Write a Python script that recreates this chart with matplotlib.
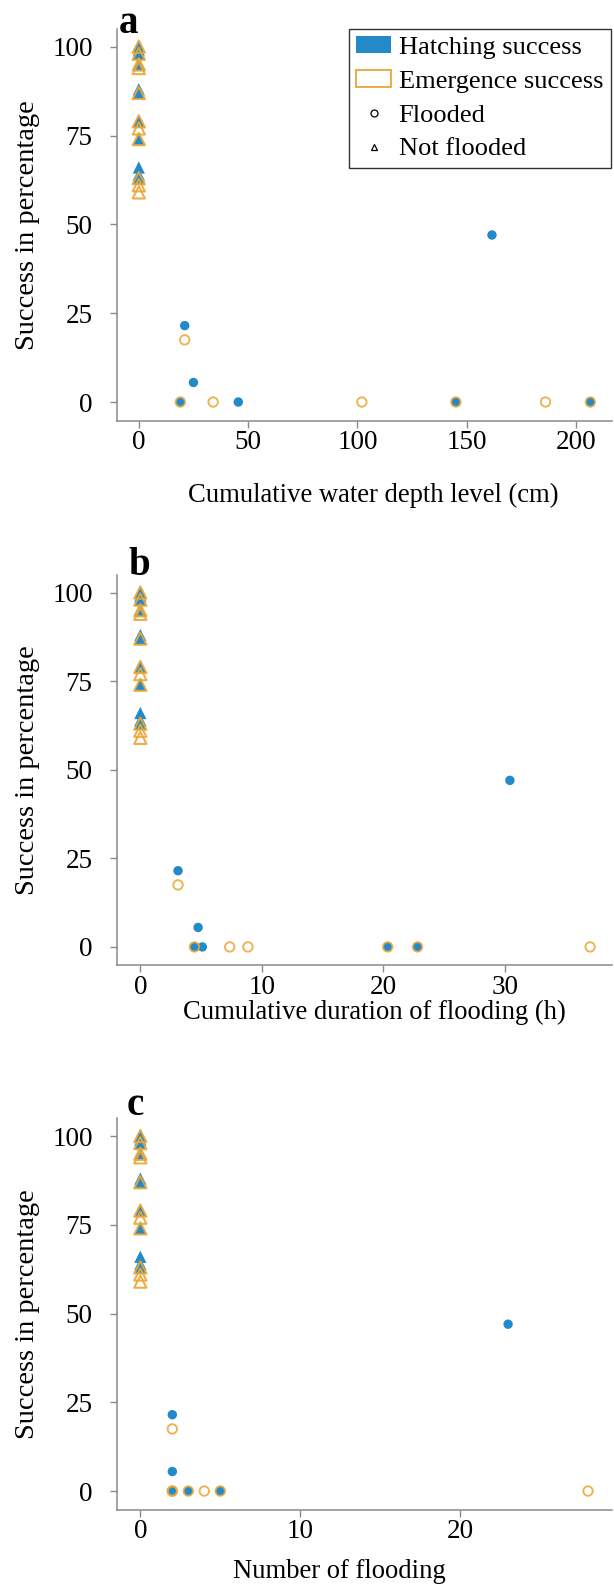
import matplotlib
matplotlib.use("Agg")
import matplotlib.pyplot as plt
from matplotlib.patches import Patch
from matplotlib.lines import Line2D

plt.rcParams['font.family'] = ['Liberation Serif', 'DejaVu Serif']

# ---------------- data ----------------
# Not flooded nests (x = 0 in every panel)
hatch_nf = [100, 99, 98, 95, 88, 87, 79, 74, 66, 64, 63]
emerg_nf = [100, 98, 95, 94, 87, 79, 77, 74, 63, 61, 59]

# Flooded nests
hatch_fl = [0, 21.5, 5.5, 0, 0, 47, 0]
hatch_depth = [19, 21, 25, 45.5, 145, 161.5, 206.5]
emerg_fl = [0, 17.5, 0, 0, 0, 0, 0]
emerg_depth = [19, 21, 34, 102, 145, 186, 206.5]

hatch_dur_fl = [5.1, 3.1, 4.75, 4.45, 20.35, 22.8, 30.4]
hatch_dur_val = [0, 21.5, 5.5, 0, 0, 0, 47]
emerg_dur_fl = [3.1, 4.45, 7.35, 8.85, 20.35, 22.8, 37.0]
emerg_dur_val = [17.5, 0, 0, 0, 0, 0, 0]

hatch_num_fl = [2, 2, 2, 3, 5, 23, 5]
hatch_num_val = [21.5, 5.5, 0, 0, 0, 47, 0]
emerg_num_fl = [2, 2, 3, 4, 5, 28, 2]
emerg_num_val = [17.5, 0, 0, 0, 0, 0, 0]

panel_letters = ['a', 'b', 'c']
xlabels = ['Cumulative water depth level (cm)',
           'Cumulative duration of flooding (h)',
           'Number of flooding']
yticks = [0, 25, 50, 75, 100]
xticks_list = [[0, 50, 100, 150, 200], [0, 10, 20, 30], [0, 10, 20]]

BLUE = '#2489C8'
ORANGE = '#E9A838'
SPINE = '#8a8a8a'

W, H = 614, 1587
fig = plt.figure(figsize=(W / 100, H / 100), dpi=100)

geo = [
    dict(top=28.9, bottom=420.5, xlim=(-9.97, 216.4), ylim=(-5.2, 105)),
    dict(top=574.8, bottom=965.0, xlim=(-1.92, 38.8), ylim=(-5.1, 105)),
    dict(top=1118.3, bottom=1509.5, xlim=(-1.46, 29.5), ylim=(-5.2, 105)),
]
left_px, right_px = 117, 612

flooded_x = [(hatch_depth, hatch_fl, emerg_depth, emerg_fl),
             (hatch_dur_fl, hatch_dur_val, emerg_dur_fl, emerg_dur_val),
             (hatch_num_fl, hatch_num_val, emerg_num_fl, emerg_num_val)]

letter_pos = [(119, 33), (128.6, 575), (126.7, 1115)]
xlabel_pos = [(373, 495), (374, 1012), (339, 1571)]

S_CIRC = 46
S_TRI = 78

axes = []
for i, g in enumerate(geo):
    ax = fig.add_axes([left_px / W, 1 - g['bottom'] / H,
                       (right_px - left_px) / W, (g['bottom'] - g['top']) / H])
    axes.append(ax)
    hx, hy, ex, ey = flooded_x[i]
    # not flooded (triangles at x = 0)
    ax.scatter([0] * len(hatch_nf), hatch_nf, marker='^', s=S_TRI, color=BLUE,
               edgecolors='none', zorder=3, clip_on=False)
    ax.scatter([0] * len(emerg_nf), emerg_nf, marker='^', s=S_TRI, facecolors='none',
               edgecolors=ORANGE, linewidths=1.5, zorder=4, alpha=0.9, clip_on=False)
    # flooded (circles)
    ax.scatter(hx, hy, marker='o', s=S_CIRC, color=BLUE, edgecolors='none', zorder=3)
    ax.scatter(ex, ey, marker='o', s=S_CIRC, facecolors='none', edgecolors=ORANGE,
               linewidths=1.4, zorder=4, alpha=0.85)

    ax.set_xlim(*g['xlim'])
    ax.set_ylim(*g['ylim'])
    ax.set_yticks(yticks)
    ax.set_xticks(xticks_list[i])
    for s in ['top', 'right']:
        ax.spines[s].set_visible(False)
    for s in ['left', 'bottom']:
        ax.spines[s].set_color(SPINE)
        ax.spines[s].set_linewidth(1.1)
    ax.tick_params(axis='both', colors=SPINE, labelcolor='black', length=5,
                   width=1.0, labelsize=19.5)
    ax.tick_params(axis='y', pad=12.5)
    ax.tick_params(axis='x', pad=2)

    ax.set_ylabel('Success in percentage', fontsize=20.5)
    ax.yaxis.label.set_va('center')
    ax.yaxis.set_label_coords((28 - left_px) / (right_px - left_px), 0.5)

    ax.set_xlabel(xlabels[i], fontsize=19.2)
    ax.xaxis.label.set_va('center')
    lx, ly = xlabel_pos[i]
    ax.xaxis.set_label_coords((lx - left_px) / (right_px - left_px),
                              (g['bottom'] - ly) / (g['bottom'] - g['top']))

    px, py = letter_pos[i]
    fig.text(px / W, 1 - py / H, panel_letters[i], fontsize=28, fontweight='bold',
             ha='left', va='baseline')

handles = [
    Patch(facecolor=BLUE, edgecolor='none', label='Hatching success'),
    Patch(facecolor='white', edgecolor=ORANGE, linewidth=1.3, label='Emergence success'),
    Line2D([], [], marker='o', linestyle='none', markerfacecolor='none',
           markeredgecolor='black', markersize=5, markeredgewidth=0.9, label='Flooded'),
    Line2D([], [], marker='^', linestyle='none', markerfacecolor='none',
           markeredgecolor='black', markersize=5, markeredgewidth=0.9, label='Not flooded'),
]
leg = axes[0].legend(handles=handles, loc='upper left',
                     bbox_to_anchor=(349 / W, 1 - 163 / H, 262 / W, 134 / H),
                     bbox_transform=fig.transFigure, mode='expand',
                     fontsize=19, frameon=True, fancybox=False, framealpha=1,
                     edgecolor='#333333', borderpad=0.28, labelspacing=0.42,
                     handlelength=1.3, handleheight=0.6, handletextpad=0.3,
                     borderaxespad=0)
leg.get_frame().set_linewidth(1.0)

fig.savefig('out.png', dpi=100)
